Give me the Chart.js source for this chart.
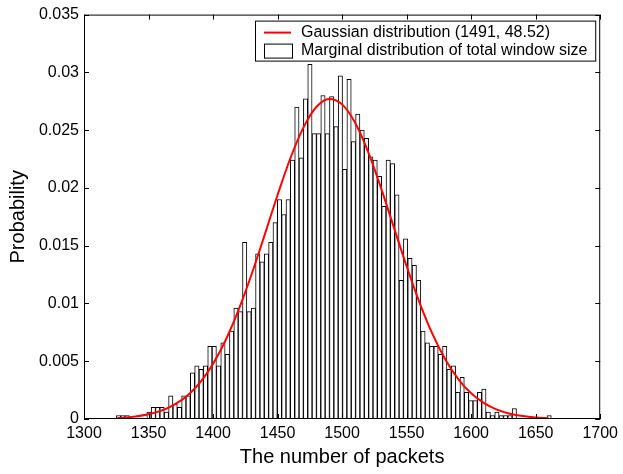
<!DOCTYPE html>
<html>
<head>
<meta charset="utf-8">
<script src="https://cdn.jsdelivr.net/npm/chart.js@4.4.0/dist/chart.umd.min.js"></script>
<style>
  html, body { margin: 0; padding: 0; background: #fff; }
  #wrap { width: 623px; height: 474px; }
</style>
</head>
<body>
<div id="wrap"><canvas id="chart" width="623" height="474"></canvas></div>
<script>
// histogram: 100 bins from 1325.1, 3.37 packets wide
const binStart = 1325.1
const binWidth = 3.37
const probability = [
  0.0003, 0.0003, 0.0003, 0, 0, 0, 0, 0.0006, 0.001, 0.001,
  0.001, 0.0006, 0.002, 0.0013, 0.001, 0.002, 0.002, 0.004, 0.0046, 0.0043,
  0.0046, 0.0063, 0.0063, 0.0046, 0.0066, 0.0056, 0.0076, 0.0096, 0.0093, 0.0153,
  0.0093, 0.0096, 0.0143, 0.0136, 0.0143, 0.0153, 0.017, 0.019, 0.0177, 0.019,
  0.0224, 0.027, 0.0226, 0.0277, 0.0307, 0.0247, 0.0247, 0.028, 0.0247, 0.0279,
  0.0253, 0.0297, 0.0216, 0.0294, 0.024, 0.0264, 0.025, 0.0243, 0.0227, 0.0224,
  0.021, 0.0184, 0.0224, 0.0221, 0.0194, 0.012, 0.0156, 0.0139, 0.0133, 0.012,
  0.0076, 0.0066, 0.0063, 0.0063, 0.0056, 0.0063, 0.0043, 0.0046, 0.0023, 0.0036,
  0.0023, 0.0016, 0.0016, 0.0023, 0.0026, 0.0006, 0.0003, 0.0006, 0.0003, 0.0003,
  0.0003, 0.0009, 0, 0, 0, 0, 0, 0, 0, 0.0003
]

// red fitted curve
const fitX = [1326, 1330, 1340, 1350, 1360, 1370, 1380, 1390, 1400, 1410, 1420, 1430,
  1440, 1450, 1460, 1470, 1480, 1490, 1500, 1510, 1520, 1530, 1540, 1550, 1560,
  1570, 1580, 1590, 1600, 1610, 1620, 1630, 1640, 1650, 1660]
const fitY = [0.00009, 0.00011, 0.00022, 0.00041, 0.00072, 0.00124, 0.00202, 0.00317,
  0.00477, 0.00688, 0.0095, 0.01257, 0.01594, 0.01939, 0.02259, 0.02522, 0.027,
  0.0277, 0.02723, 0.02566, 0.02317, 0.02005, 0.01663, 0.01322, 0.01008, 0.00736,
  0.00515, 0.00346, 0.00222, 0.00137, 0.00081, 0.00046, 0.00025, 0.00013, 0.00006]

const xTicks = [1300, 1350, 1400, 1450, 1500, 1550, 1600, 1650, 1700]
const yTicks = [0, 0.005, 0.01, 0.015, 0.02, 0.025, 0.03, 0.035]
const yTickLabels = ['0', '0.005', '0.01', '0.015', '0.02', '0.025', '0.03', '0.035']

const seriesNames = ['Gaussian distribution (1491, 48.52)', 'Marginal distribution of total window size']

const FONT = '"Liberation Sans", Arial, Helvetica, sans-serif'

// box round the axes and inward ticks on all four sides
const axesBox = {
  id: 'axesBox',
  afterDraw(chart) {
    const {ctx, chartArea: a, scales: {x, y}} = chart
    ctx.save()
    ctx.strokeStyle = '#000'
    ctx.lineWidth = 1
    ctx.strokeRect(a.left + 0.5, a.top + 0.5, a.width - 1, a.height - 1)
    ctx.beginPath()
    xTicks.forEach(v => {
      const px = Math.round(x.getPixelForValue(v)) + 0.5
      ctx.moveTo(px, a.bottom); ctx.lineTo(px, a.bottom - 5)
      ctx.moveTo(px, a.top); ctx.lineTo(px, a.top + 5)
    })
    yTicks.forEach(v => {
      const py = Math.round(y.getPixelForValue(v)) + 0.5
      ctx.moveTo(a.left, py); ctx.lineTo(a.left + 5, py)
      ctx.moveTo(a.right, py); ctx.lineTo(a.right - 5, py)
    })
    ctx.stroke()
    ctx.restore()
  }
}

// legend box in the upper right corner
const boxLegend = {
  id: 'boxLegend',
  afterDraw(chart) {
    const {ctx, chartArea: a} = chart
    ctx.save()
    ctx.font = '16px ' + FONT
    const textW = Math.max(...seriesNames.map(s => ctx.measureText(s).width))
    const right = a.right - 5
    const left = Math.round(right - textW - 54)
    const top = a.top + 6
    ctx.fillStyle = '#fff'
    ctx.fillRect(left, top, right - left, 40)
    ctx.strokeStyle = '#000'
    ctx.lineWidth = 1
    ctx.strokeRect(left + 0.5, top + 0.5, right - left, 40)

    ctx.strokeStyle = '#ff0000'
    ctx.lineWidth = 2
    ctx.beginPath()
    ctx.moveTo(left + 9, top + 12)
    ctx.lineTo(left + 36, top + 12)
    ctx.stroke()

    ctx.strokeStyle = '#000'
    ctx.lineWidth = 1
    ctx.strokeRect(left + 9.5, top + 23.5, 28, 14)

    ctx.fillStyle = '#000'
    ctx.textBaseline = 'middle'
    ctx.fillText(seriesNames[0], left + 46, top + 12)
    ctx.fillText(seriesNames[1], left + 46, top + 30)
    ctx.restore()
  }
}

new Chart(document.getElementById('chart').getContext('2d'), {
  data: {
    datasets: [{
      type: 'line',
      label: seriesNames[0],
      data: fitX.map((v, i) => ({x: v, y: fitY[i]})),
      borderColor: '#ff0000',
      borderWidth: 2,
      pointRadius: 0,
      fill: false,
      cubicInterpolationMode: 'monotone',
      order: 0
    }, {
      type: 'bar',
      label: seriesNames[1],
      data: probability.map((v, i) => ({x: binStart + binWidth * (i + 0.5), y: v})),
      backgroundColor: '#ffffff',
      borderColor: '#000000',
      borderWidth: 1,
      barPercentage: 1,
      categoryPercentage: 1,
      grouped: false,
      order: 1
    }]
  },
  options: {
    responsive: false,
    devicePixelRatio: 1,
    animation: false,
    layout: { padding: { top: 9, right: 18, left: 0, bottom: 0 } },
    plugins: {
      legend: { display: false },
      tooltip: { enabled: false }
    },
    scales: {
      x: {
        type: 'linear',
        min: 1300,
        max: 1700,
        offset: false,
        grid: { display: false, drawTicks: false },
        border: { display: false },
        afterBuildTicks: s => { s.ticks = xTicks.map(v => ({value: v})) },
        afterFit: s => { s.height = 55 },
        ticks: {
          autoSkip: false,
          maxRotation: 0,
          padding: 5,
          color: '#000',
          font: { family: FONT, size: 16 },
          callback: v => String(v)
        },
        title: {
          display: true,
          text: 'The number of packets',
          color: '#000',
          font: { family: FONT, size: 20 },
          padding: { top: 0, bottom: 5 }
        }
      },
      y: {
        min: 0,
        max: 0.035,
        grid: { display: false, drawTicks: false },
        border: { display: false },
        afterBuildTicks: s => { s.ticks = yTicks.map(v => ({value: v})) },
        afterFit: s => { s.width = 84 },
        ticks: {
          autoSkip: false,
          padding: 5,
          color: '#000',
          font: { family: FONT, size: 16 },
          callback: v => yTickLabels[yTicks.findIndex(t => Math.abs(t - v) < 1e-9)]
        },
        title: {
          display: true,
          text: 'Probability',
          color: '#000',
          font: { family: FONT, size: 20 },
          padding: { top: 6, bottom: 0 }
        }
      }
    }
  },
  plugins: [axesBox, boxLegend]
})
</script>
</body>
</html>
